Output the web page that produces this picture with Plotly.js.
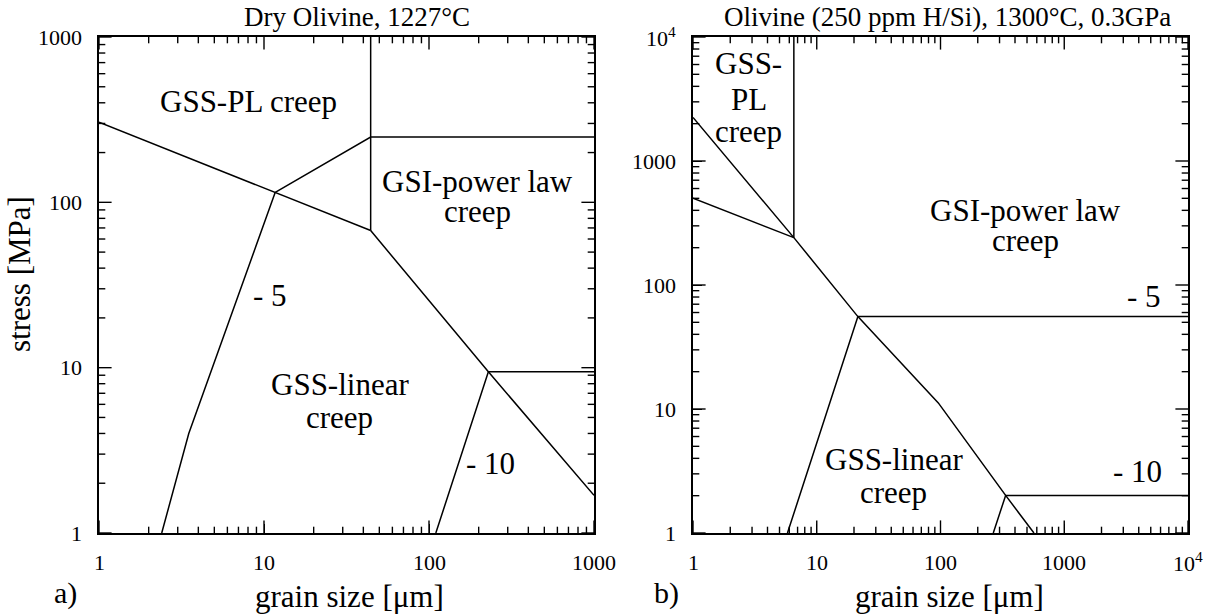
<!DOCTYPE html>
<html><head><meta charset="utf-8">
<script src="https://cdn.plot.ly/plotly-3.0.1.min.js"></script>
<style>
html,body{margin:0;padding:0;background:#fff}
#chart{width:1213px;height:614px}
#chart text{font-family:"Liberation Serif","DejaVu Serif","Times New Roman",Times,serif !important;}
</style>
</head><body><div id="chart"></div>
<script>
// ---------- Panel a) Dry Olivine, 1227°C ----------
const aLine1X = [1, 11.7, 44.3];          // GSS-PL / GSS-linear boundary
const aLine1Y = [305, 115, 67.5];
const aLine2X = [11.7, 44.3, 1000];       // upper boundary
const aLine2Y = [115, 248, 248];
const aVertX = [44.3, 44.3];              // vertical GSS-PL / GSI boundary
const aVertY = [1000, 67.5];
const aDiagX = [44.3, 229, 1000];         // GSS-linear / GSI boundary
const aDiagY = [67.5, 9.44, 1.69];
const aM5X = [2.4, 3.5, 11.7];            // -5 contour
const aM5Y = [1, 4.0, 115];
const aM10X = [110, 229, 1000];           // -10 contour
const aM10Y = [1, 9.44, 9.44];

// ---------- Panel b) Olivine (250 ppm H/Si), 1300°C, 0.3GPa ----------
const bDiagX = [1, 6.53, 21.5, 96, 336, 569];
const bDiagY = [2245, 241, 55.6, 11.2, 2.01, 1];
const bLine2X = [1, 6.53];
const bLine2Y = [501, 241];
const bVertX = [6.53, 6.53];
const bVertY = [10000, 241];
const bM5X = [5.8, 21.5, 10000];
const bM5Y = [1, 55.6, 55.6];
const bM10X = [267, 336, 10000];
const bM10Y = [1, 2.01, 2.01];

// tick labels
const aTickVals = [1, 10, 100, 1000];
const aTickText = ['1', '10', '100', '1000'];
const bTickVals = [1, 10, 100, 1000, 10000];
const bTickText = ['1', '10', '100', '1000', '10<sup>4</sup>'];
const minorDigits = [2, 3, 4, 5, 6, 7, 8, 9];

// region labels (one entry per text line): text, x value, y value
const aLabelText = ['GSS-PL creep', 'GSI-power law', 'creep', '- 5', 'GSS-linear', 'creep', '- 10'];
const aLabelX = [8.03, 197, 197, 10.8, 28.7, 28.7, 237];
const aLabelY = [409, 134.6, 88.4, 27.3, 7.9, 4.97, 2.63];
const bLabelText = ['GSS-', 'PL', 'creep', 'GSI-power law', 'creep', '- 5', 'GSS-linear', 'creep', '- 10'];
const bLabelX = [2.81, 2.81, 2.83, 482, 485, 4416, 41.8, 41.9, 3910];
const bLabelY = [6100, 3150, 1734, 401, 228, 80.5, 3.89, 2.12, 3.12];

const FONT = 'Liberation Serif';
const W = 1213, H = 614;

function seg(x, y, xa, ya) {
  return {x: x, y: y, xaxis: xa, yaxis: ya, type: 'scatter', mode: 'lines',
          line: {color: '#000', width: 1.5}, hoverinfo: 'skip', showlegend: false};
}
const data = [
  seg(aLine1X, aLine1Y, 'x', 'y'), seg(aLine2X, aLine2Y, 'x', 'y'),
  seg(aVertX, aVertY, 'x', 'y'), seg(aDiagX, aDiagY, 'x', 'y'),
  seg(aM5X, aM5Y, 'x', 'y'), seg(aM10X, aM10Y, 'x', 'y'),
  seg(bDiagX, bDiagY, 'x2', 'y2'), seg(bLine2X, bLine2Y, 'x2', 'y2'),
  seg(bVertX, bVertY, 'x2', 'y2'), seg(bM5X, bM5Y, 'x2', 'y2'),
  seg(bM10X, bM10Y, 'x2', 'y2')
];

function minorVals(decades) {
  const v = [];
  for (let k = 0; k < decades; k++) minorDigits.forEach(d => v.push(d * Math.pow(10, k)));
  return v;
}

// inside tick marks on all four sides: line markers centred on the frame,
// clipped by the plot area so only the inner half shows
function tickMarks(vals, lo, hi, size, xa, ya) {
  const n = vals.length;
  const common = {type: 'scatter', mode: 'markers', xaxis: xa, yaxis: ya, cliponaxis: true,
                  hoverinfo: 'skip', showlegend: false};
  data.push(Object.assign({}, common, {   // bottom and top
    x: vals.concat(vals), y: Array(n).fill(lo).concat(Array(n).fill(hi)),
    marker: {symbol: 'line-ns-open', size: size, color: '#000', line: {color: '#000', width: 1.4}}
  }));
  data.push(Object.assign({}, common, {   // left and right
    x: Array(n).fill(lo).concat(Array(n).fill(hi)), y: vals.concat(vals),
    marker: {symbol: 'line-ew-open', size: size, color: '#000', line: {color: '#000', width: 1.4}}
  }));
}
tickMarks(aTickVals, 1, 1000, 18, 'x', 'y');
tickMarks(minorVals(3), 1, 1000, 9, 'x', 'y');
tickMarks(bTickVals, 1, 10000, 18, 'x2', 'y2');
tickMarks(minorVals(4), 1, 10000, 9, 'x2', 'y2');

function axis(range, domain, anchor, vals) {
  return {
    type: 'log', range: range, domain: domain, anchor: anchor,
    showline: true, linecolor: '#000', linewidth: 1.6, mirror: true,
    ticks: 'inside', ticklen: 9, tickwidth: 1.4, tickcolor: '#000',
    tickmode: 'array', tickvals: vals, showticklabels: false,
    showgrid: false, zeroline: false
  };
}

const xDomA = [99 / W, 594 / W], xDomB = [693 / W, 1188 / W];
const yDom = [81 / H, 577 / H];
const layout = {
  width: W, height: H,
  margin: {l: 0, r: 0, t: 0, b: 0},
  paper_bgcolor: '#fff', plot_bgcolor: '#fff',
  font: {family: FONT, color: '#000'},
  showlegend: false,
  xaxis: axis([0, 3], xDomA, 'y', aTickVals),
  yaxis: axis([0, 3], yDom, 'x', aTickVals),
  xaxis2: axis([0, 4], xDomB, 'y2', bTickVals),
  yaxis2: axis([0, 4], yDom, 'x2', bTickVals),
  annotations: []
};

function paperText(text, px, py, size, angle) {
  return {text: text, xref: 'paper', yref: 'paper', x: px / W, y: 1 - py / H,
          xanchor: 'center', yanchor: 'middle', showarrow: false, textangle: angle || 0,
          font: {family: FONT, size: size, color: '#000'}};
}
layout.annotations.push(
  paperText('Dry Olivine, 1227°C', 357, 17, 27),
  paperText('Olivine (250 ppm H/Si), 1300°C, 0.3GPa', 948, 17, 27),
  paperText('stress [MPa]', 19, 274, 31, -90),
  paperText('grain size [μm]', 349, 596, 31),
  paperText('grain size [μm]', 949, 596, 31),
  paperText('a)', 65, 593, 30),
  paperText('b)', 666, 593, 30)
);

// tick labels placed through the axes' own log scales
function tickLabels(vals, texts, xr, yr, yTickRightPx) {
  for (let i = 0; i < vals.length; i++) {
    layout.annotations.push({   // x-axis label
      text: texts[i], xref: xr, yref: 'paper', x: Math.log10(vals[i]), y: 1 - 562 / H,
      xanchor: 'center', yanchor: 'middle', showarrow: false,
      font: {family: FONT, size: 22, color: '#000'}
    });
    layout.annotations.push({   // y-axis label
      text: texts[i], xref: 'paper', yref: yr, x: yTickRightPx / W, y: Math.log10(vals[i]),
      xanchor: 'right', yanchor: 'middle', showarrow: false,
      font: {family: FONT, size: 22, color: '#000'}
    });
  }
}
tickLabels(aTickVals, aTickText, 'x', 'y', 84);
tickLabels(bTickVals, bTickText, 'x2', 'y2', 678);

function addLabels(texts, xs, ys, xr, yr) {
  for (let i = 0; i < texts.length; i++) {
    layout.annotations.push({
      text: texts[i], xref: xr, yref: yr, x: Math.log10(xs[i]), y: Math.log10(ys[i]),
      xanchor: 'center', yanchor: 'middle', showarrow: false,
      font: {family: FONT, size: 31, color: '#000'}
    });
  }
}
addLabels(aLabelText, aLabelX, aLabelY, 'x', 'y');
addLabels(bLabelText, bLabelX, bLabelY, 'x2', 'y2');

Plotly.newPlot('chart', data, layout, {displayModeBar: false});
</script>
</body></html>
